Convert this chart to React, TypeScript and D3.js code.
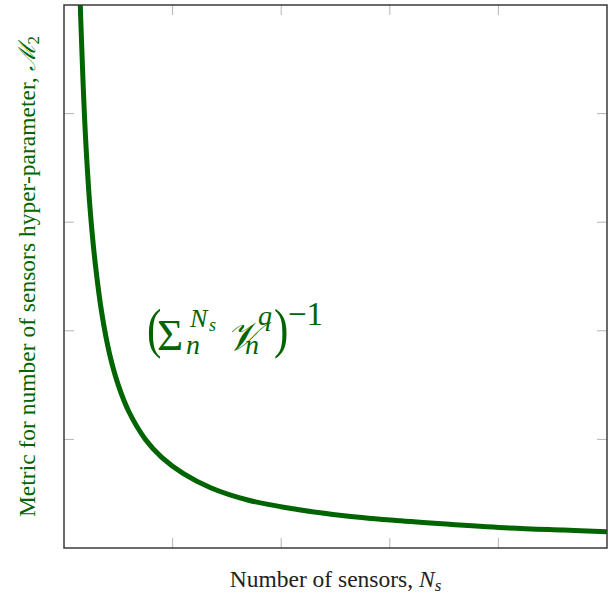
import * as d3 from 'd3';

// values
const sensorCounts = [1.3, 1.5, 1.75, 2.0, 2.4, 2.9, 3.5, 4.2, 5.0, 6.0, 7.5, 9.0, 11, 13.5, 17, 21.5, 26, 31, 36, 41, 46, 50];
const metricValues = [1.15, 1.0, 0.86, 0.75, 0.625, 0.52, 0.43, 0.357, 0.3, 0.25, 0.2, 0.167, 0.137, 0.111, 0.088, 0.071, 0.059, 0.05, 0.043, 0.037, 0.033, 0.03];

const xTicks = [10, 20, 30, 40];
const yTicks = [0.2, 0.4, 0.6, 0.8];

const width = 608;
const height = 599;
const margin = { top: 5, right: 1, bottom: 51, left: 64 };
const green = '#006400';
const serif = "'Liberation Serif', 'DejaVu Serif', serif";

export default function App() {
  const x = d3.scaleLinear().domain([0, 50]).range([margin.left, width - margin.right]);
  const y = d3.scaleLinear().domain([0, 1]).range([height - margin.bottom, margin.top]);

  const points = sensorCounts.map((n, i) => [n, metricValues[i]] as [number, number]);
  const line = d3.line<[number, number]>()
    .x((d) => x(d[0]))
    .y((d) => y(d[1]))
    .curve(d3.curveCatmullRom.alpha(0.5));

  const [x0, x1] = x.range();
  const [y0, y1] = y.range();
  const tickLen = 10;

  return (
    <svg
      width={width}
      height={height}
      style={{ position: 'absolute', left: 0, top: 0, background: '#fff', fontFamily: serif }}
    >
      <defs>
        <clipPath id="plot">
          <rect x={x0} y={y1} width={x1 - x0} height={y0 - y1} />
        </clipPath>
      </defs>

      {xTicks.map((t) => (
        <g key={'x' + t} stroke="#b4b4b4" strokeWidth={1}>
          <line x1={x(t)} x2={x(t)} y1={y0} y2={y0 - tickLen} />
          <line x1={x(t)} x2={x(t)} y1={y1} y2={y1 + tickLen} />
        </g>
      ))}
      {yTicks.map((t) => (
        <g key={'y' + t} stroke="#b4b4b4" strokeWidth={1}>
          <line x1={x0} x2={x0 + tickLen} y1={y(t)} y2={y(t)} />
          <line x1={x1} x2={x1 - tickLen} y1={y(t)} y2={y(t)} />
        </g>
      ))}

      <path
        d={line(points) ?? ''}
        fill="none"
        stroke={green}
        strokeWidth={5}
        clipPath="url(#plot)"
      />

      <rect x={x0} y={y1} width={x1 - x0} height={y0 - y1} fill="none" stroke="#3a3a3a" strokeWidth={1.5} />

      {/* formula label */}
      <g fill={green} style={{ fontFamily: serif }}>
        <text transform="translate(147,347) scale(0.8,1)" fontSize={54}>(</text>
        <text x={157} y={350} fontSize={45}>Σ</text>
        <text x={186} y={354} fontSize={28} fontStyle="italic">n</text>
        <text x={190} y={327} fontSize={26} fontStyle="italic">N</text>
        <text x={209} y={331} fontSize={18} fontStyle="italic">s</text>
        <text x={226} y={350} fontSize={40} fontStyle="italic">𝒱</text>
        <text x={245} y={354} fontSize={28} fontStyle="italic">n</text>
        <text x={258} y={325} fontSize={28} fontStyle="italic">q</text>
        <text transform="translate(274,347) scale(0.8,1)" fontSize={54}>)</text>
        <text x={288} y={325} fontSize={33}>−1</text>
      </g>

      <text
        x={(x0 + x1) / 2}
        y={587}
        textAnchor="middle"
        fontSize={23.5}
        fill="#222"
        style={{ fontFamily: serif }}
      >
        Number of sensors, <tspan fontStyle="italic">N</tspan>
        <tspan fontStyle="italic" fontSize={17} dy={4}>s</tspan>
      </text>

      <text
        transform={`translate(35,${(y0 + y1) / 2}) rotate(-90)`}
        textAnchor="middle"
        fontSize={23.5}
        fill={green}
        style={{ fontFamily: serif }}
      >
        Metric for number of sensors hyper-parameter, <tspan fontStyle="italic">ℳ</tspan>
        <tspan fontSize={17} dy={4}>2</tspan>
      </text>
    </svg>
  );
}
